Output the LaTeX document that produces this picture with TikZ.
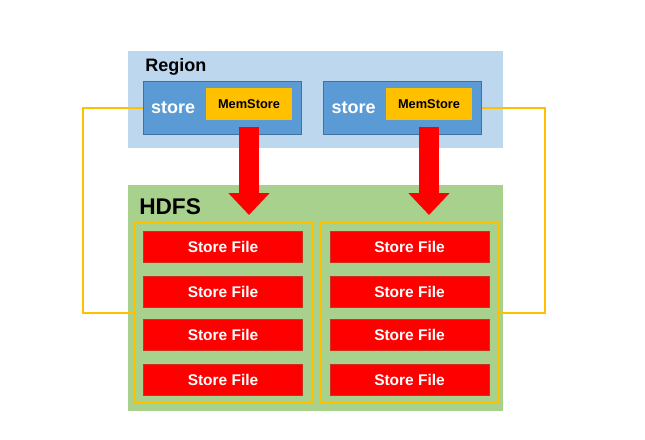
\documentclass[tikz,border=0pt]{standalone}
\usepackage{fontspec}
\setmainfont{Liberation Sans}
\usepackage{tikz}
\usetikzlibrary{arrows.meta, positioning, calc}
\definecolor{regionbg}{HTML}{BDD7EE}
\definecolor{storeblue}{HTML}{5B9BD5}
\definecolor{storeline}{HTML}{41719C}
\definecolor{memyellow}{HTML}{FFC000}
\definecolor{hdfsgreen}{HTML}{A9D18E}
\definecolor{fileline}{HTML}{D0301F}

\begin{document}
\begin{tikzpicture}[
  x=0.75pt, y=-0.75pt,
  bg/.style={inner sep=0pt, minimum width=281.25pt},
  storebox/.style={draw=storeline, fill=storeblue, inner sep=0pt, minimum width=118.5pt, minimum height=39.75pt},
  storetxt/.style={anchor=west, inner sep=0pt, text=white, font=\bfseries\fontsize{13.5}{16}\selectfont},
  mem/.style={fill=memyellow, inner sep=0pt, minimum width=64.5pt, minimum height=24pt, font=\bfseries\fontsize{9.6}{11}\selectfont},
  frame/.style={draw=memyellow, line width=1.5pt, inner sep=0pt, minimum width=133.5pt, minimum height=135pt},
  file/.style={draw=fileline, fill=red, inner sep=0pt, minimum width=119.25pt, minimum height=23.25pt, text=white, font=\bfseries\fontsize{11.6}{14}\selectfont},
  title/.style={anchor=west, inner sep=0pt, font=\bfseries},
  push/.style={-{Triangle[length=16.5pt, width=30pt]}, red, line width=15pt, shorten <=5.25pt, shorten >=5.25pt},
  link/.style={memyellow, line width=1.5pt}
]
\useasboundingbox (0,0) rectangle (645,439);
\fill[white] (0,0) rectangle (645,439);

\node[bg, fill=regionbg, minimum height=72.75pt] (region) at (315.5,99.5) {};
\node[title, font=\bfseries\fontsize{13.5}{16}\selectfont] (regionlbl) at (145,67) {Region};
\node[storebox] (store1) at (222,107.5) {};
\node[storebox] (store2) at (402.5,107.5) {};
\node[storetxt] (storelbl1) at ([xshift=6pt]store1.west) {store};
\node[storetxt] (storelbl2) at ([xshift=6pt]store2.west) {store};
\node[mem] (mem1) at (249,104) {MemStore};
\node[mem] (mem2) at (429,104) {MemStore};

\node[bg, fill=hdfsgreen, minimum height=169.5pt] (hdfs) at (315.5,298) {};
\node[title, font=\bfseries\fontsize{17}{20}\selectfont] (hdfslbl) at (139,207) {HDFS};
\node[frame] (frame1) at (224,313) {};
\node[frame] (frame2) at (409,313) {};
\foreach \y [count=\i] in {247,292,335,380} {
  \node[file] (lfile\i) at (223,\y) {Store File};
  \node[file] (rfile\i) at (409.5,\y) {Store File};
}

\draw[push] (mem1.south) -- (mem1.south |- frame1.north);
\draw[push] (mem2.south) -- (mem2.south |- frame2.north);

\draw[link] (store1.west) -- ++(-60,0) |- (frame1.west);
\draw[link] (store2.east) -- ++(63,0) |- (frame2.east);
\end{tikzpicture}
\end{document}
